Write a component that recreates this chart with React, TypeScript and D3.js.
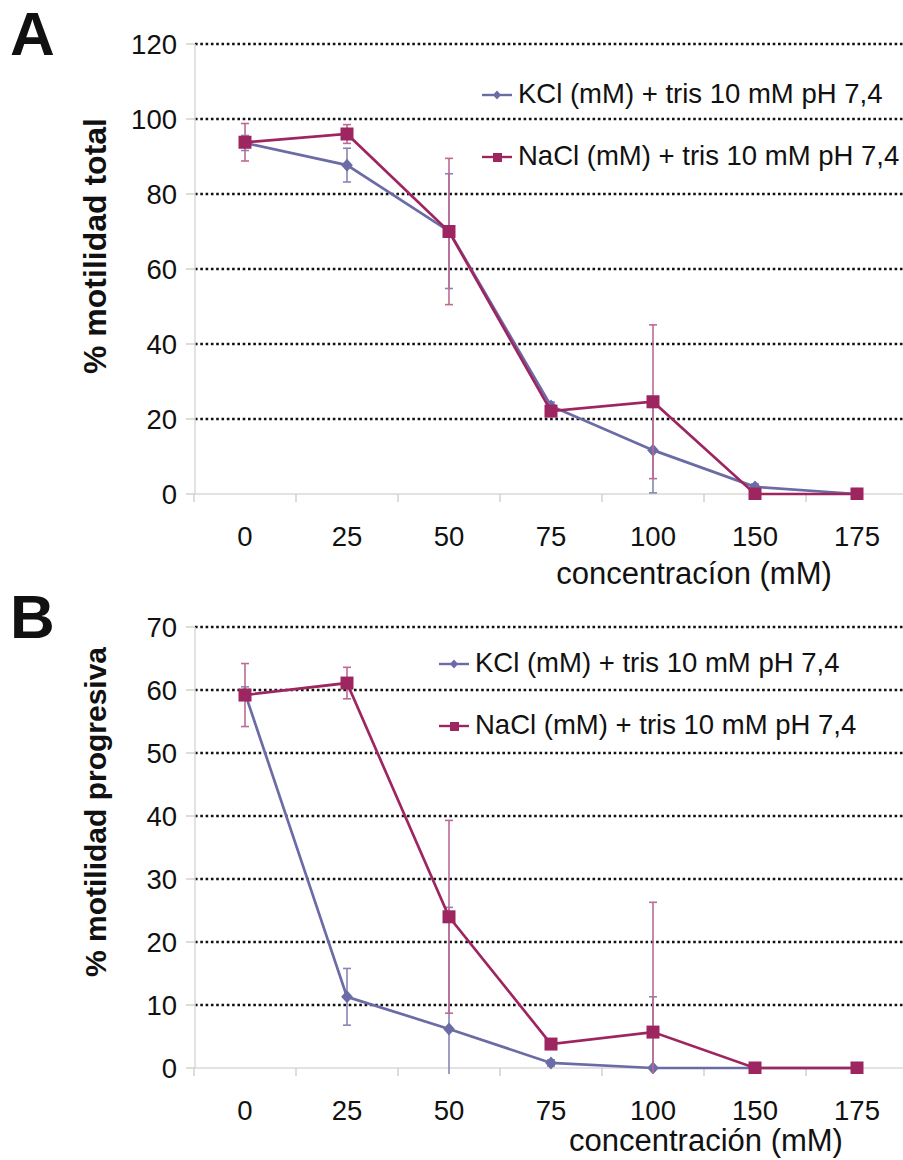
import React from 'react';
import { scaleBand, scaleLinear, line } from 'd3';

// concentrations (mM)
const categories = ['0', '25', '50', '75', '100', '150', '175'];

// panel A: % motilidad total
const kclTotal = [93.6, 87.7, 70.1, 23.5, 11.7, 1.9, 0];
const kclTotalErr = [2, 4.5, 15.3, 1, 11.4, 0.8, 0];
const naclTotal = [93.8, 96, 70, 22.1, 24.6, 0, 0];
const naclTotalErr = [5, 2.5, 19.5, 1, 20.5, 0, 0];
const totalTicks = [0, 20, 40, 60, 80, 100, 120];

// panel B: % motilidad progresiva
const kclProg = [59.5, 11.3, 6.2, 0.8, 0, 0, 0];
const kclProgErr = [1, 4.5, 19.3, 0.5, 11.3, 0, 0];
const naclProg = [59.2, 61.1, 24, 3.8, 5.7, 0, 0];
const naclProgErr = [5, 2.5, 15.3, 0.5, 20.6, 0, 0];
const progTicks = [0, 10, 20, 30, 40, 50, 60, 70];

const kclLabel = 'KCl (mM) + tris 10 mM pH 7,4';
const naclLabel = 'NaCl (mM) + tris 10 mM pH 7,4';

const KCL = '#6b6ba6';
const KCL_ERR = '#8686b6';
const NACL = '#9e2660';
const NACL_ERR = '#bd6a94';
const FONT = '"Liberation Sans", Arial, sans-serif';

function Panel({ id, letter, top, bottom, max, ticks, kcl, kclErr, nacl, naclErr, yTitle, yTitleY, yTitleSize, xTitle, xTitleX, xTitleY, legendX, legendY }) {
  const x = scaleBand().domain(categories).range([194, 908]);
  const y = scaleLinear().domain([0, max]).range([bottom, top]);
  const cx = (c) => x(c) + x.bandwidth() / 2;
  const path = line().x((d, i) => cx(categories[i])).y((d) => y(d));

  const errBars = (vals, errs, color) =>
    vals.map((v, i) => {
      if (!errs[i]) return null;
      const xc = cx(categories[i]);
      const hi = y(v + errs[i]);
      const lo = y(v - errs[i]);
      return (
        <g key={'e' + i} stroke={color} strokeWidth={1.6}>
          <line x1={xc} x2={xc} y1={hi} y2={lo} />
          <line x1={xc - 4} x2={xc + 4} y1={hi} y2={hi} />
          <line x1={xc - 4} x2={xc + 4} y1={lo} y2={lo} />
        </g>
      );
    });

  const diamond = (xc, yc, r) => `M${xc},${yc - r}L${xc + r * 0.9},${yc}L${xc},${yc + r}L${xc - r * 0.9},${yc}Z`;

  return (
    <g>
      <defs>
        <clipPath id={'clip' + id}>
          <rect x={194} y={top - 20} width={720} height={bottom - top + 26} />
        </clipPath>
      </defs>
      <text x={10} y={top + 11} fontSize={62} fontWeight="bold" fontFamily={FONT} fill="#111">{letter}</text>

      {/* grid */}
      {ticks.filter((t) => t > 0).map((t) => (
        <line key={t} x1={195} x2={903} y1={y(t)} y2={y(t)} stroke="#111" strokeWidth={2.6} strokeDasharray="2.6 2.7" />
      ))}
      {/* axes */}
      <line x1={195} x2={195} y1={top} y2={bottom} stroke="#d8d8d8" strokeWidth={1.5} />
      <line x1={195} x2={903} y1={bottom} y2={bottom} stroke="#d8d8d8" strokeWidth={1.5} />
      {ticks.map((t) => (
        <g key={'t' + t}>
          <line x1={186} x2={195} y1={y(t)} y2={y(t)} stroke="#d0d0d0" strokeWidth={1.5} />
          <text x={177} y={y(t) + 10} textAnchor="end" fontSize={27.5} fontFamily={FONT} fill="#111">{t}</text>
        </g>
      ))}
      {categories.map((c) => (
        <g key={'c' + c}>
          <line x1={x(c)} x2={x(c)} y1={bottom} y2={bottom + 8} stroke="#d0d0d0" strokeWidth={1.5} />
          <text x={cx(c)} y={bottom + 52} textAnchor="middle" fontSize={27.5} fontFamily={FONT} fill="#111">{c}</text>
        </g>
      ))}

      <text x={xTitleX} y={xTitleY} textAnchor="middle" fontSize={31} fontFamily={FONT} fill="#111">{xTitle}</text>
      <text transform={`translate(106,${yTitleY}) rotate(-90)`} textAnchor="middle" fontSize={yTitleSize} fontWeight="bold" fontFamily={FONT} fill="#111">{yTitle}</text>

      {/* series */}
      <g clipPath={`url(#clip${id})`}>
        {errBars(kcl, kclErr, KCL_ERR)}
        <path d={path(kcl)} fill="none" stroke={KCL} strokeWidth={2.7} />
        {kcl.map((v, i) => (
          <path key={'k' + i} d={diamond(cx(categories[i]), y(v), 6.5)} fill={KCL} />
        ))}
        {errBars(nacl, naclErr, NACL_ERR)}
        <path d={path(nacl)} fill="none" stroke={NACL} strokeWidth={2.7} />
        {nacl.map((v, i) => (
          <rect key={'n' + i} x={cx(categories[i]) - 6.5} y={y(v) - 6.5} width={13} height={13} fill={NACL} />
        ))}
      </g>

      {/* legend */}
      <g fontFamily={FONT} fontSize={27.5} fill="#111">
        <line x1={legendX - 36} x2={legendX - 6} y1={legendY - 8} y2={legendY - 8} stroke={KCL} strokeWidth={2.4} />
        <path d={diamond(legendX - 21, legendY - 8, 4.5)} fill={KCL} />
        <text x={legendX} y={legendY}>{kclLabel}</text>
        <line x1={legendX - 36} x2={legendX - 6} y1={legendY + 54} y2={legendY + 54} stroke={NACL} strokeWidth={2.4} />
        <rect x={legendX - 25} y={legendY + 50} width={9} height={9} fill={NACL} />
        <text x={legendX} y={legendY + 62}>{naclLabel}</text>
      </g>
    </g>
  );
}

export default function App() {
  return (
    <svg width={903} height={1160} style={{ position: 'absolute', left: 0, top: 0, background: '#fff' }}>
      <rect width={903} height={1160} fill="#fff" />
      <Panel id="A" letter="A" top={44} bottom={494} max={120} ticks={totalTicks}
        kcl={kclTotal} kclErr={kclTotalErr} nacl={naclTotal} naclErr={naclTotalErr}
        yTitle="% motilidad total" yTitleY={246} yTitleSize={32}
        xTitle="concentracíon (mM)" xTitleX={694} xTitleY={584} legendX={518} legendY={103} />
      <Panel id="B" letter="B" top={627} bottom={1068} max={70} ticks={progTicks}
        kcl={kclProg} kclErr={kclProgErr} nacl={naclProg} naclErr={naclProgErr}
        yTitle="% motilidad progresiva" yTitleY={812} yTitleSize={30}
        xTitle="concentración (mM)" xTitleX={706} xTitleY={1151} legendX={475} legendY={672} />
    </svg>
  );
}
